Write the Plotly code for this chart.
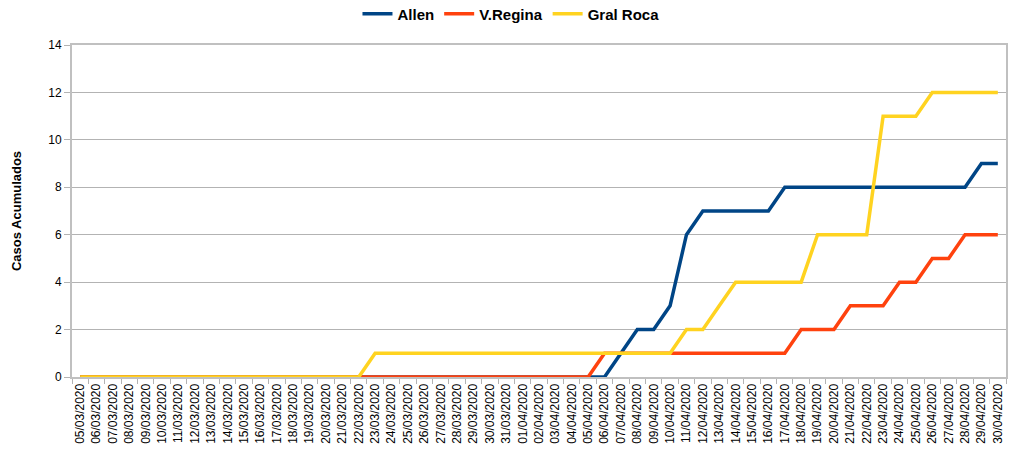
import datetime as dt
import plotly.graph_objects as go

start = dt.date(2020, 3, 5)
dates = [(start + dt.timedelta(days=i)).strftime("%d/%m/%Y") for i in range(57)]

# Values (05/03/2020 .. 30/04/2020)
allen = [0] * 32 + [0, 1, 2, 2, 3, 6, 7, 7, 7, 7, 7, 8, 8, 8, 8, 8, 8, 8, 8, 8, 8, 8, 8, 9, 9, 9]
allen = allen[:57]
vregina = [0] * 32 + [1, 1, 1, 1, 1, 1, 1, 1, 1, 1, 1, 1, 2, 2, 2, 3, 3, 3, 4, 4, 5, 5, 6, 6, 6]
vregina = vregina[:57]
gralroca = [0] * 18 + [1] * 19 + [2, 2, 3, 4, 4, 4, 4, 4, 6, 6, 6, 6, 11, 11, 11, 12, 12, 12, 12, 12]
gralroca = gralroca[:57]

series = [("Allen", allen, "#004586"), ("V.Regina", vregina, "#ff420e"), ("Gral Roca", gralroca, "#ffd320")]

fig = go.Figure()
for name, vals, col in series:
    fig.add_trace(go.Scatter(x=dates, y=vals, name="<b>" + name + "</b>", mode="lines",
                             line=dict(color=col, width=3.5)))

fig.update_layout(
    width=1014, height=449,
    margin=dict(l=72, r=8, t=45, b=72, autoexpand=False),
    paper_bgcolor="white", plot_bgcolor="white",
    font=dict(family="Liberation Sans, Arial, sans-serif", color="#000000", size=12),
    legend=dict(orientation="h", x=0.47, xanchor="center", y=0.969, yanchor="middle",
                yref="container", font=dict(size=15, family="Liberation Sans, Arial, sans-serif"),
                itemwidth=30, traceorder="normal", tracegroupgap=0),
    showlegend=True,
)
fig.update_xaxes(type="category", tickangle=-90, tickson="boundaries",
                 ticks="outside", ticklen=5, tickcolor="#b3b3b3",
                 showgrid=False, showline=True, linecolor="#c0c0c0", linewidth=2,
                 mirror=True, tickfont=dict(size=12), range=[-0.5, 56.5], automargin=False)
fig.update_yaxes(range=[0, 14], dtick=2, ticks="outside", ticklen=6, tickcolor="#b3b3b3",
                 showgrid=True, gridcolor="#b3b3b3", gridwidth=1,
                 showline=True, linecolor="#c0c0c0", linewidth=2, mirror=True,
                 zeroline=False, tickfont=dict(size=12), automargin=False,
                 title=dict(text="<b>Casos Acumulados</b>", font=dict(size=13), standoff=24))

fig.write_html("out.html", config={"displayModeBar": False},
               post_script="document.body.style.margin='0';")
